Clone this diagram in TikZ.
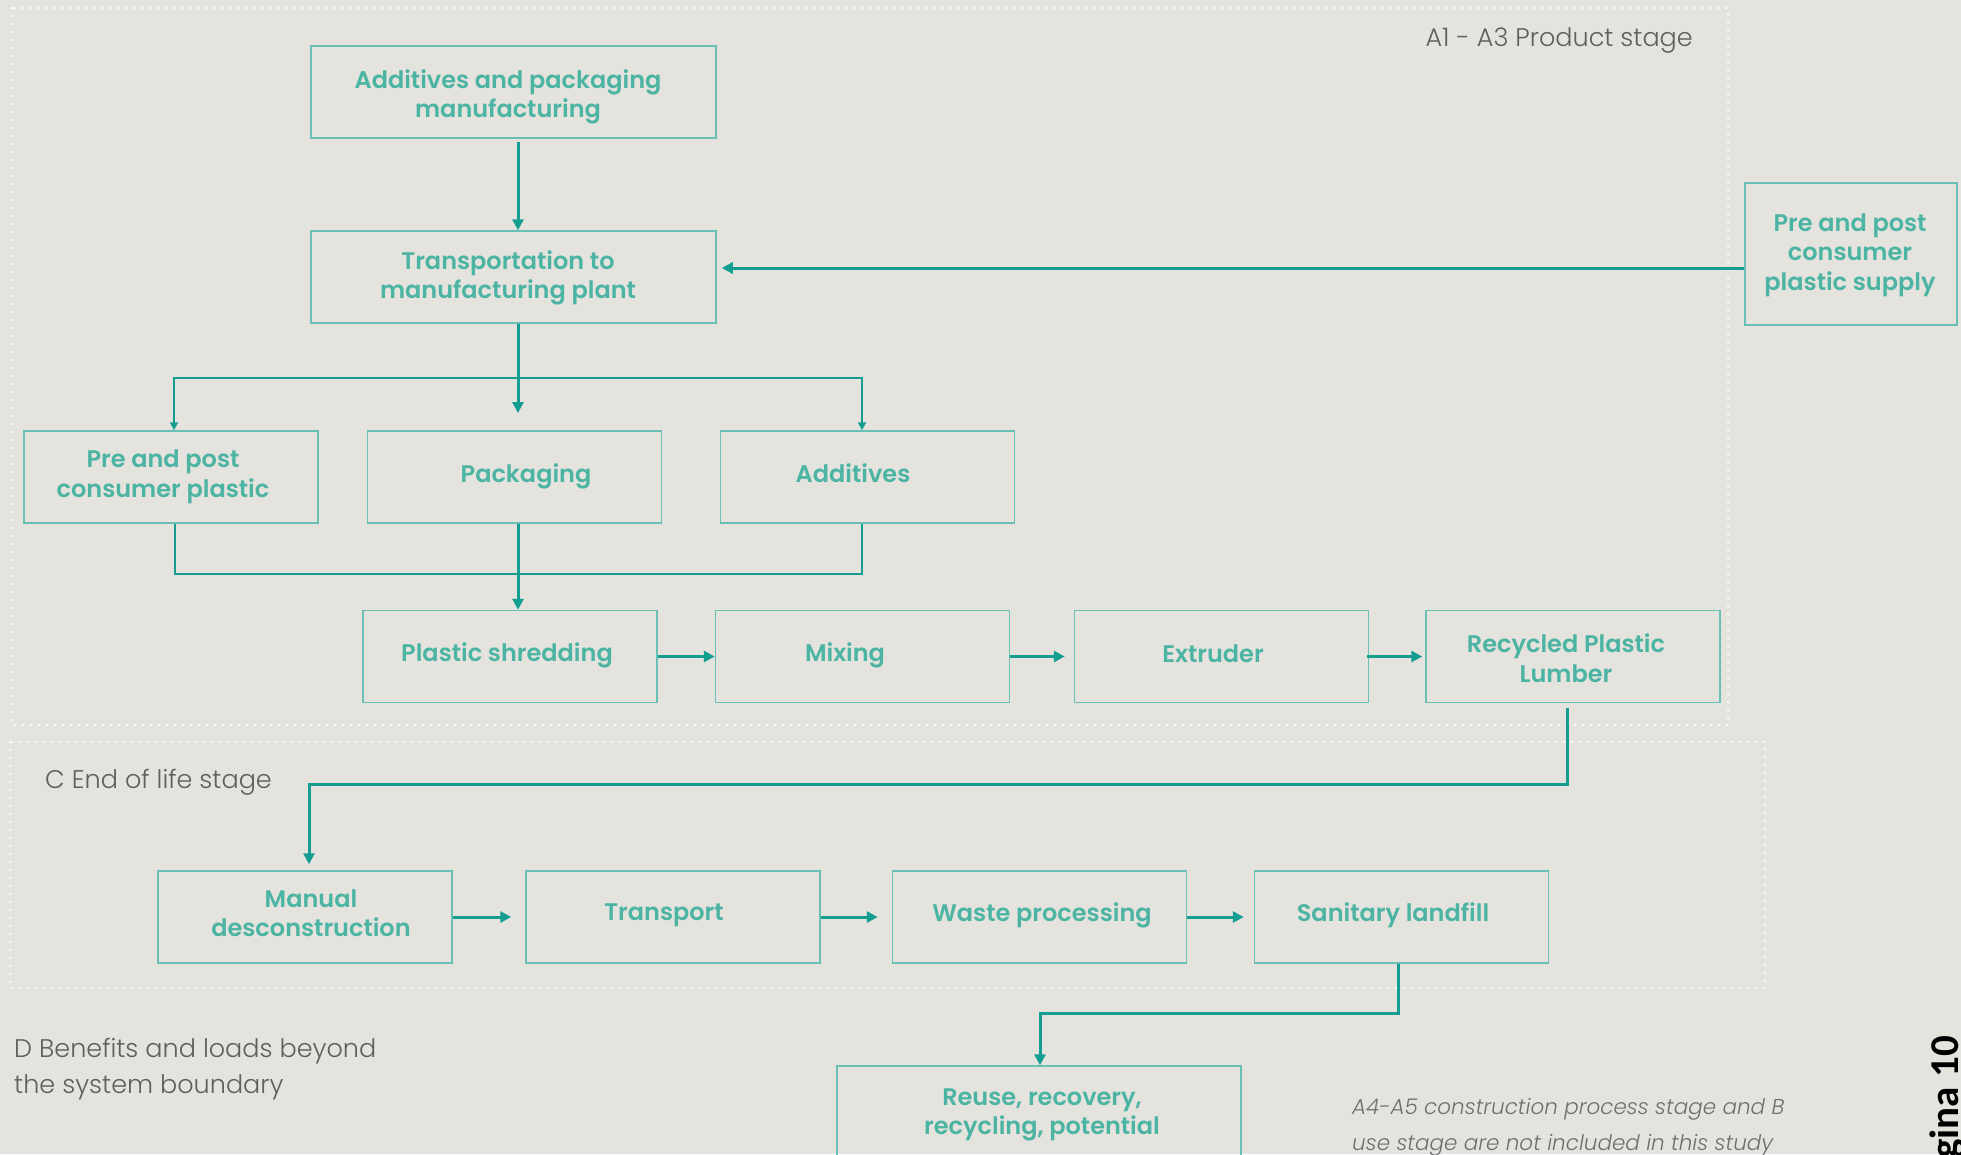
\documentclass[tikz,border=0pt]{standalone}
\usepackage{fontspec}
\setmainfont{Poppins}[BoldFont={* SemiBold}]
\newfontfamily\lightfont{Poppins}[UprightFont={* Light}, ItalicFont={* Light Italic}]
\newfontfamily\pagefont{Carlito}
\usetikzlibrary{arrows.meta}
\definecolor{bg}{RGB}{228,227,222}
\definecolor{tealtext}{RGB}{76,180,163}
\definecolor{boxline}{RGB}{104,193,180}
\definecolor{arrowc}{RGB}{20,158,146}
\definecolor{labgray}{RGB}{95,95,95}
\begin{document}
\begin{tikzpicture}[x=1pt,y=-1pt,
  box/.style={draw=boxline, line width=1.5pt, minimum width=294pt, minimum height=92pt,
    inner sep=0pt},
  txt/.style={inner sep=0pt, align=center, text=tealtext,
    font=\fontsize{24}{29.5}\selectfont\bfseries},
  arr/.style={draw=arrowc, line width=3pt, -{Triangle[length=11pt,width=11pt]}},
  thinarr/.style={draw=arrowc, line width=2pt, -{Triangle[length=8pt,width=8pt]}},
  thinl/.style={draw=arrowc, line width=2pt},
  stageline/.style={white, line width=2.5pt, line cap=round, dash pattern=on 0pt off 8pt},
  lab/.style={text=labgray, inner sep=0pt, font=\lightfont\fontsize{25.5}{36}\selectfont}]
\path[use as bounding box, fill=bg] (0,0) rectangle (1961,1154);
\clip (0,0) rectangle (1961,1154);

% stage boundaries
\draw[stageline] (12,8) rectangle (1728,725);
\draw[stageline] (10,742) rectangle (1765,988);

% labels
\node[lab, anchor=east] (lA) at (1693,40) {A1 - A3 Product stage};
\node[lab, anchor=west] (lC) at (45,782) {C End of life stage};
\node[lab, anchor=north west, align=left] (lD) at (14,1038) {D Benefits and loads beyond\\the system boundary};
\node[lab, anchor=north west, align=left, text=labgray!90,
  font=\lightfont\fontsize{21.5}{36}\selectfont\itshape] (note) at (1352,1098)
  {A4-A5 construction process stage and B\\use stage are not included in this study};
\node[rotate=90, anchor=base east, inner sep=0pt, text=black,
  font=\pagefont\bfseries\fontsize{41}{44}\selectfont] (pg) at (1958,1036) {Página 10};

% boxes
\node[box, minimum width=405pt] (addpack) at (513.5,92) {};
\node[box, minimum width=405pt] (trans) at (513.5,277) {};
\node[box, minimum width=212pt, minimum height=142pt] (supply) at (1851,254) {};
\node[box] (ppc) at (171,477) {};
\node[box] (pack) at (514.5,477) {};
\node[box] (addit) at (867.5,477) {};
\node[box] (shred) at (510,656.5) {};
\node[box] (mix) at (862.5,656.5) {};
\node[box] (extr) at (1221.5,656.5) {};
\node[box] (rpl) at (1573,656.5) {};
\node[box] (manual) at (305,917) {};
\node[box] (transp) at (673,917) {};
\node[box] (waste) at (1039.5,917) {};
\node[box] (sanit) at (1401.5,917) {};
\node[box, minimum width=404pt, minimum height=94pt] (reuse) at (1039,1113) {};

% box texts
\node[txt] (t-addpack) at (508,97) {Additives and packaging\\manufacturing};
\node[txt] (t-trans) at (508,278) {Transportation to\\manufacturing plant};
\node[txt] (t-supply) at (1850,255) {Pre and post\\consumer\\plastic supply};
\node[txt] (t-ppc) at (163,477) {Pre and post\\consumer plastic};
\node[txt] (t-pack) at (526,476) {Packaging};
\node[txt] (t-addit) at (853,473) {Additives};
\node[txt] (t-shred) at (507,655) {Plastic shredding};
\node[txt] (t-mix) at (845,655) {Mixing};
\node[txt] (t-extr) at (1213,654) {Extruder};
\node[txt] (t-rpl) at (1566,658) {Recycled Plastic\\Lumber};
\node[txt] (t-manual) at (311,913) {Manual\\desconstruction};
\node[txt] (t-transp) at (664,915) {Transport};
\node[txt] (t-waste) at (1042,915) {Waste processing};
\node[txt] (t-sanit) at (1393,915) {Sanitary landfill};
\node[txt] (t-reuse) at (1042,1115) {Reuse, recovery,\\recycling, potential};

% connectors
\draw[arr, shorten <=3pt] ([xshift=4.5pt]addpack.south) -- ([xshift=4.5pt]trans.north);
\coordinate (s1) at ([yshift=-14pt]supply.west);
\draw[arr, shorten >=5pt] (s1) -- (trans.east |- s1);
\coordinate (tdown) at (518,413);
\draw[arr] ([xshift=4.5pt]trans.south) -- (tdown);
\coordinate (j1) at (518,378);
\draw[thinarr] (j1) -| ([xshift=3pt]ppc.north);
\draw[thinarr] (j1) -| ([xshift=-5.5pt]addit.north);
\coordinate (m1) at (518,574);
\draw[thinl] ([xshift=4pt]ppc.south) |- (m1) -| ([xshift=-5.5pt]addit.south);
\draw[arr] ([xshift=3.5pt]pack.south) -- ([xshift=8pt]shred.north);
\draw[arr] (shred.east) -- (mix.west);
\draw[arr, shorten >=9pt] (mix.east) -- (extr.west);
\draw[arr, shorten <=-2pt, shorten >=3pt] (extr.east) -- (rpl.west);
\coordinate (k1) at (309,784);
\draw[arr, shorten <=5pt, shorten >=6pt] ([xshift=-6pt]rpl.south) |- (k1) -- ([xshift=4pt]manual.north);
\draw[arr, shorten >=14pt] (manual.east) -- (transp.west);
\draw[arr, shorten >=14pt] (transp.east) -- (waste.west);
\draw[arr, shorten >=10pt] (waste.east) -- (sanit.west);
\coordinate (k2) at (1040,1013);
\draw[arr] ([xshift=-3.5pt]sanit.south) |- (k2) -- ([xshift=1pt]reuse.north);
\end{tikzpicture}
\end{document}
